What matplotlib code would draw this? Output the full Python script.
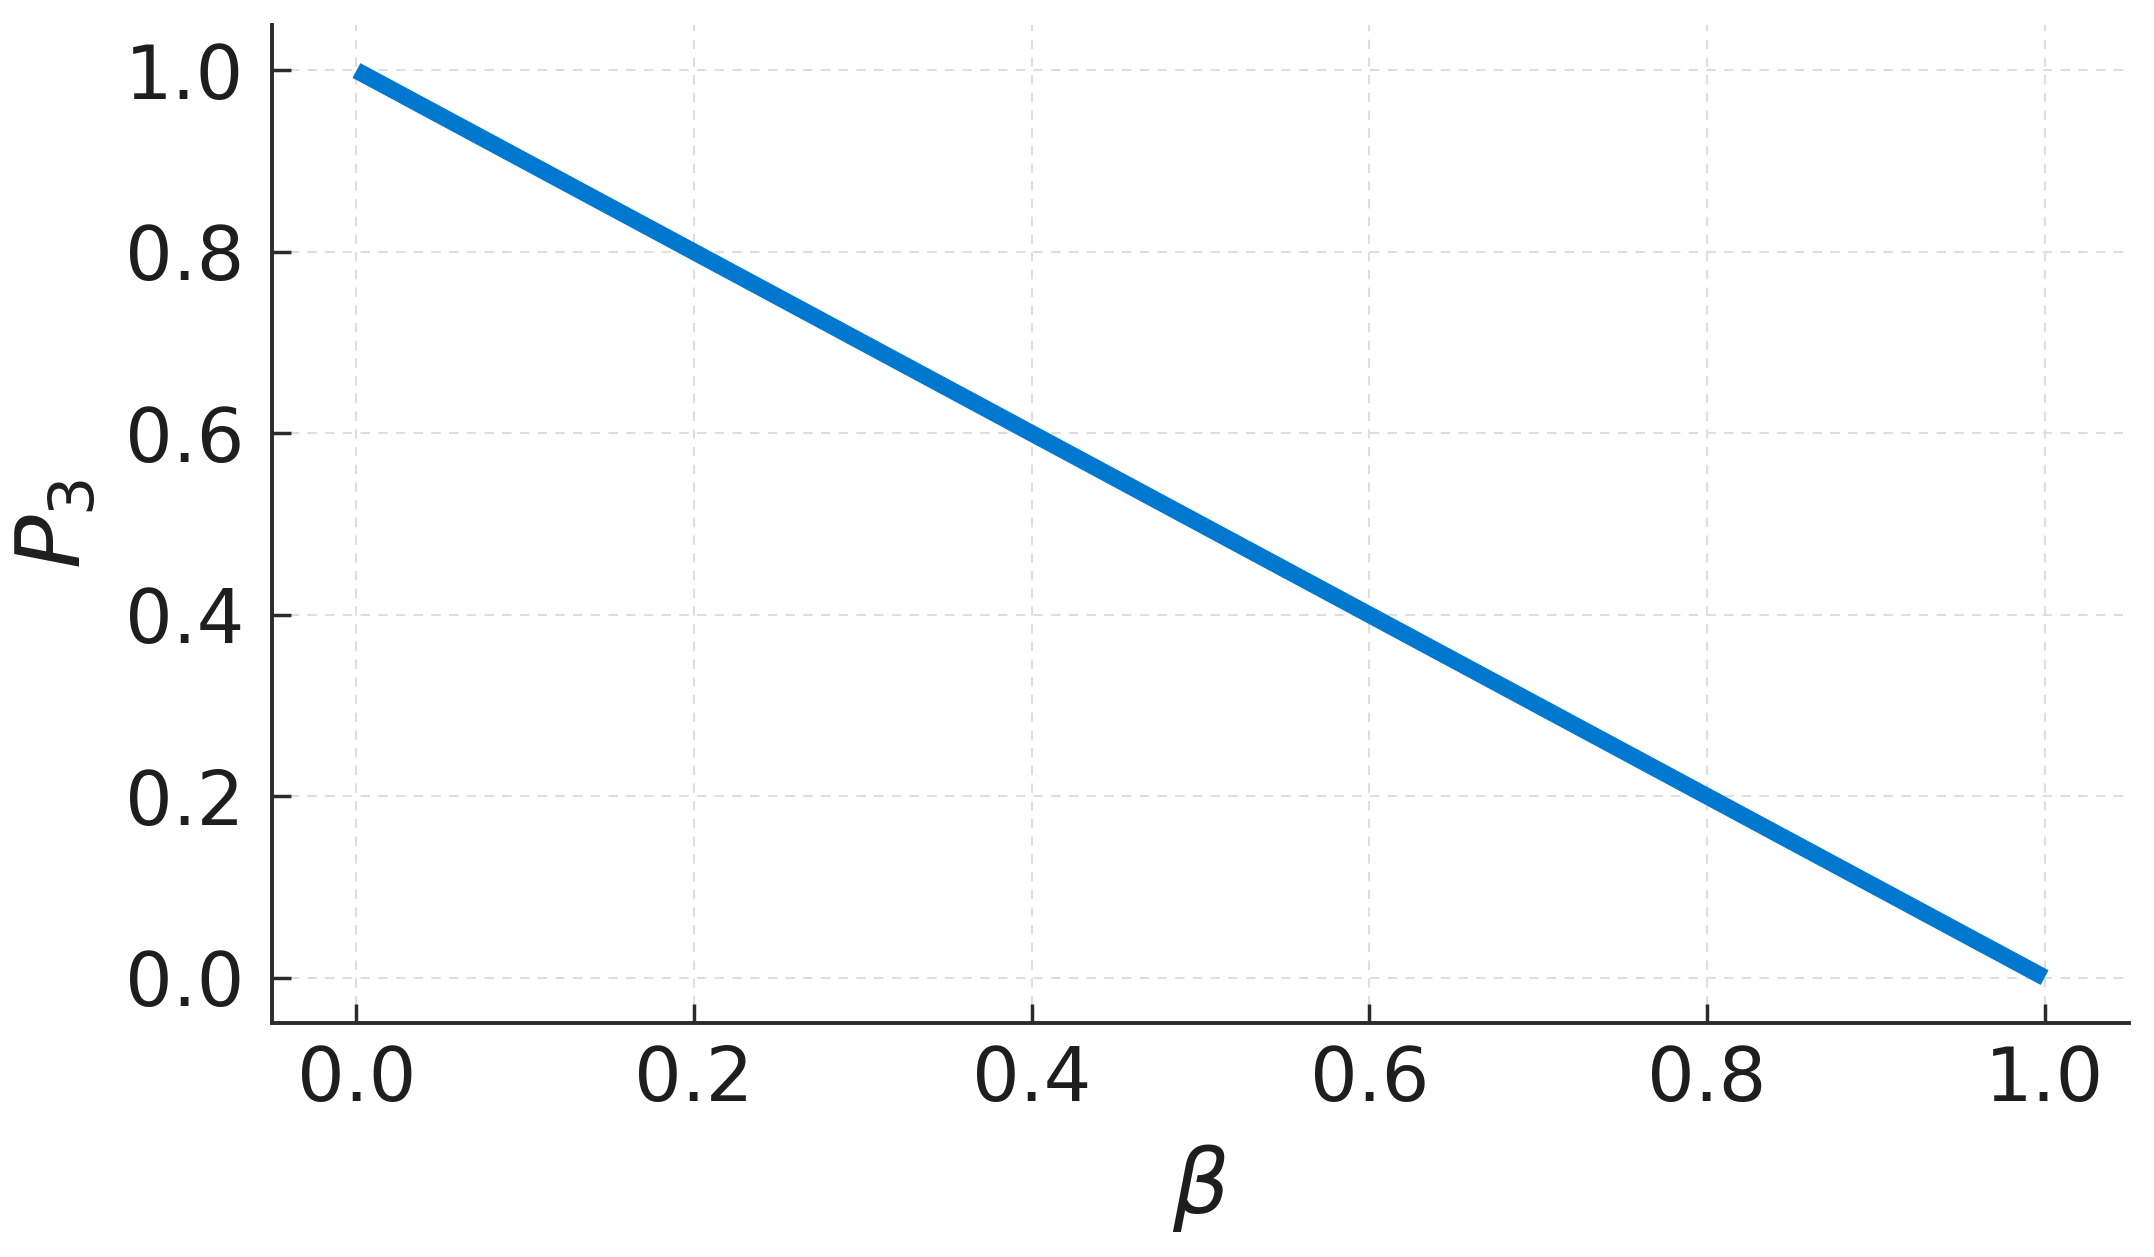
import matplotlib
matplotlib.use("Agg")
import matplotlib.pyplot as plt

beta = [0.0, 1.0]
p3 = [1.0, 0.0]
xticks = [0.0, 0.2, 0.4, 0.6, 0.8, 1.0]
yticks = [0.0, 0.2, 0.4, 0.6, 0.8, 1.0]

plt.rcParams['font.family'] = ['DejaVu Sans']
fig = plt.figure(figsize=(21.54, 12.57), dpi=100)
ax = fig.add_axes([0.1263, 0.1862, 0.8621, 0.7938])

ax.plot(beta, p3, color='#0078D0', lw=12, solid_capstyle='butt', zorder=3)

ax.set_xlim(-0.05, 1.05)
ax.set_ylim(-0.05, 1.05)
ax.set_xticks(xticks)
ax.set_yticks(yticks)
ax.set_xticklabels([f"{v:.1f}" for v in xticks])
ax.set_yticklabels([f"{v:.1f}" for v in yticks])

for s in ['top', 'right']:
    ax.spines[s].set_visible(False)
for s in ['left', 'bottom']:
    ax.spines[s].set_linewidth(2.8)
    ax.spines[s].set_color('#2b2b2b')

ax.tick_params(axis='both', direction='in', length=14, width=2.5, color='#2b2b2b',
               labelsize=54, labelcolor='#1e1e1e')
ax.tick_params(axis='x', pad=15)
ax.tick_params(axis='y', pad=20)

ax.grid(True, linestyle=(0, (4.5, 4)), color='#dedede', linewidth=1.5, zorder=0)
ax.set_axisbelow(True)

ax.set_xlabel(r'$\beta$', fontsize=64, color='#1e1e1e', labelpad=18)
ax.set_ylabel(r'$P_3$', fontsize=64, color='#1e1e1e', labelpad=18)

fig.savefig('out.png', dpi=100, facecolor='white')
